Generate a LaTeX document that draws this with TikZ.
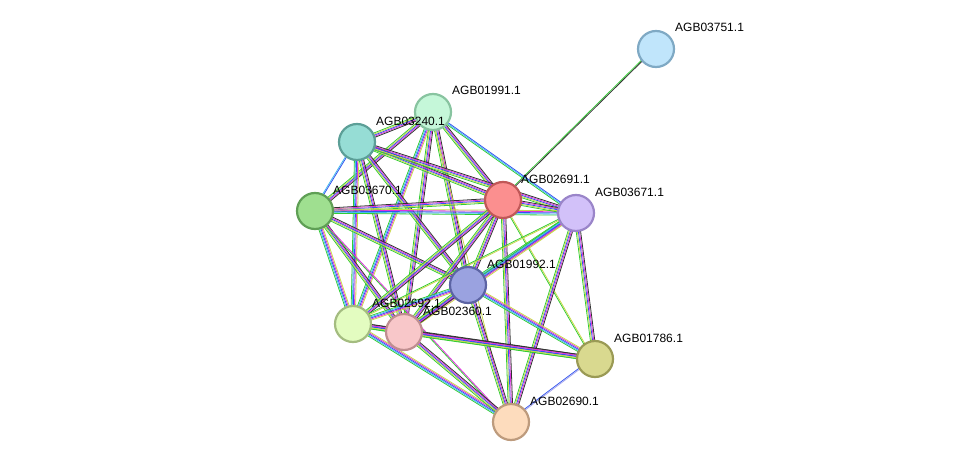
\documentclass[tikz,border=0pt]{standalone}
\usepackage{fontspec}
\setmainfont{Liberation Sans}
\usetikzlibrary{calc}
\begin{document}
\begin{tikzpicture}[x=1pt,y=-1pt,
  prot/.style={circle,minimum size=36pt,inner sep=0pt,line width=2.2pt},
  lab/.style={anchor=base west,font=\fontsize{12}{14}\selectfont,inner sep=0pt}]
\useasboundingbox (0,0) rectangle (976,468);
\definecolor{egreen}{HTML}{33CC33}\definecolor{eyell}{HTML}{C8D84A}\definecolor{eblue}{HTML}{3355EE}
\definecolor{emag}{HTML}{DD33DD}\definecolor{eblack}{HTML}{333333}\definecolor{ecyan}{HTML}{44BBEE}
\definecolor{elil}{HTML}{AAAAEE}
\def\P{egreen,eyell,eblue,emag,eblack}
\def\Q{egreen,ecyan,eblue,emag,eyell}
\newcommand\ed[3]{%
  \edef\lst{#3}%
  \foreach \c [count=\i] in \lst {%
    \pgfmathsetmacro\o{(\i-3)*1.1}%
    \draw[draw=\c,line width=0.8pt] ($(#1)!\o pt!90:(#2)$) -- ($(#2)!\o pt!-90:(#1)$);}}
\coordinate (n3751) at (656,49);
\coordinate (n1991) at (433,112);
\coordinate (n3240) at (357,142);
\coordinate (n2691) at (503,200);
\coordinate (n3671) at (576,213);
\coordinate (n3670) at (315,211);
\coordinate (n1992) at (468,285);
\coordinate (n2692) at (353,324);
\coordinate (n2360) at (404,332);
\coordinate (n1786) at (595,359);
\coordinate (n2690) at (511,422);
% edges
\ed{n3751}{n2691}{egreen,eblack}
\ed{n1991}{n3240}{\P}\ed{n1991}{n2691}{\P}\ed{n1991}{n3671}{egreen,ecyan,eblue}
\ed{n1991}{n3670}{\P}\ed{n1991}{n1992}{\P}\ed{n1991}{n2692}{\Q}\ed{n1991}{n2360}{\P}
\ed{n1991}{n2690}{eyell}
\ed{n3240}{n2691}{\P}\ed{n3240}{n3671}{\P}\ed{n3240}{n3670}{ecyan,eblue}\ed{n3240}{n1992}{\P}
\ed{n3240}{n2692}{\Q}\ed{n3240}{n2360}{\P}
\ed{n3670}{n2691}{\P}\ed{n3670}{n3671}{\Q}\ed{n3670}{n1992}{\P}\ed{n3670}{n2692}{\Q}
\ed{n3670}{n2360}{\P}\ed{n3670}{n2690}{egreen,emag}
\ed{n2691}{n3671}{\P}\ed{n2691}{n1992}{\P}\ed{n2691}{n2692}{\P}\ed{n2691}{n2360}{\P}
\ed{n2691}{n1786}{egreen,eyell}\ed{n2691}{n2690}{\P}
\ed{n3671}{n1992}{\Q}\ed{n3671}{n2692}{egreen,eyell}\ed{n3671}{n2360}{\Q}\ed{n3671}{n1786}{\P}
\ed{n3671}{n2690}{\P}
\ed{n1992}{n2360}{\P}\ed{n1992}{n2692}{\Q}\ed{n1992}{n1786}{\Q}\ed{n1992}{n2690}{\P}
\ed{n2692}{n2360}{\P}\ed{n2692}{n1786}{\P}\ed{n2692}{n2690}{\Q}
\ed{n2360}{n1786}{\P}\ed{n2360}{n2690}{\P}
\ed{n1786}{n2690}{eblue,elil}
% nodes
\node[prot,fill={rgb,255:red,192;green,229;blue,251},draw={rgb,255:red,127;green,169;blue,196}] (a3751) at (n3751) {};
\node[prot,fill={rgb,255:red,197;green,247;blue,217},draw={rgb,255:red,136;green,196;blue,160}] (a1991) at (n1991) {};
\node[prot,fill={rgb,255:red,150;green,221;blue,213},draw={rgb,255:red,92;green,159;blue,151}] (a3240) at (n3240) {};
\node[prot,fill={rgb,255:red,251;green,143;blue,143},draw={rgb,255:red,192;green,88;blue,88}] (a2691) at (n2691) {};
\node[prot,fill={rgb,255:red,210;green,193;blue,249},draw={rgb,255:red,154;green,133;blue,201}] (a3671) at (n3671) {};
\node[prot,fill={rgb,255:red,159;green,223;blue,144},draw={rgb,255:red,95;green,159;blue,85}] (a3670) at (n3670) {};
\node[prot,fill={rgb,255:red,154;green,162;blue,224},draw={rgb,255:red,92;green,100;blue,164}] (a1992) at (n1992) {};
\node[prot,fill={rgb,255:red,227;green,252;blue,192},draw={rgb,255:red,164;green,188;blue,128}] (a2692) at (n2692) {};
\node[prot,fill={rgb,255:red,248;green,199;blue,201},draw={rgb,255:red,191;green,142;blue,144}] (a2360) at (n2360) {};
\node[prot,fill={rgb,255:red,217;green,217;blue,143},draw={rgb,255:red,154;green,154;blue,85}] (a1786) at (n1786) {};
\node[prot,fill={rgb,255:red,253;green,220;blue,189},draw={rgb,255:red,189;green,155;blue,125}] (a2690) at (n2690) {};
% labels
\node[lab] (l3751) at ($(n3751)+(19,-17)$) {AGB03751.1};
\node[lab] (l1991) at ($(n1991)+(19,-17)$) {AGB01991.1};
\node[lab] (l3240) at ($(n3240)+(19,-17)$) {AGB03240.1};
\node[lab] (l2691) at ($(n2691)+(18,-17)$) {AGB02691.1};
\node[lab] (l3671) at ($(n3671)+(19,-17)$) {AGB03671.1};
\node[lab] (l3670) at ($(n3670)+(18,-17)$) {AGB03670.1};
\node[lab] (l1992) at ($(n1992)+(19,-17)$) {AGB01992.1};
\node[lab] (l2692) at ($(n2692)+(19,-17)$) {AGB02692.1};
\node[lab] (l2360) at ($(n2360)+(19,-17)$) {AGB02360.1};
\node[lab] (l1786) at ($(n1786)+(19,-17)$) {AGB01786.1};
\node[lab] (l2690) at ($(n2690)+(19,-17)$) {AGB02690.1};
\end{tikzpicture}
\end{document}
